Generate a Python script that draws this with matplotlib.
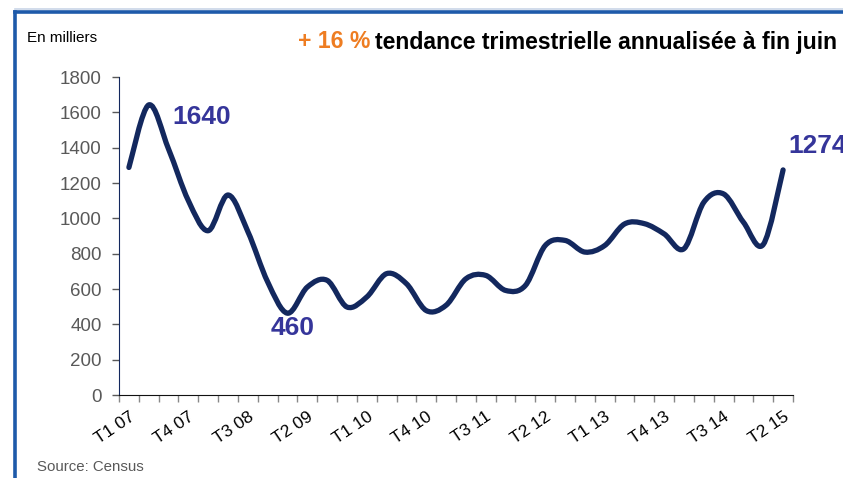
import numpy as np, matplotlib; matplotlib.use("Agg")
import matplotlib.pyplot as plt
from matplotlib.path import Path
from matplotlib.patches import PathPatch
from matplotlib.lines import Line2D

plt.rcParams['font.family'] = ['Liberation Sans', 'DejaVu Sans']

# quarterly data, T1 07 .. T2 15 (thousands)
quarters = [f"T{q} {y:02d}" for y in range(7, 16) for q in range(1, 5)][:34]
values = [1288, 1642, 1392, 1100, 930, 1132, 925, 640, 463, 611,
          649, 498, 555, 687, 630, 478, 508, 658, 677, 592,
          620, 846, 875, 809, 846, 968, 970, 912, 828, 1091,
          1138, 978, 852, 1274]
label_idx = list(range(0, 34, 3))
callouts = [(1, "1640"), (8, "460"), (33, "1274")]

NAVY = '#13285E'; LAB = '#35359A'; GREY = '#595959'

fig = plt.figure(figsize=(8.43, 4.78), dpi=100)
ax = fig.add_axes([119/843, 1-395/478, 674/843, 318/478])

# smoothed line (Catmull-Rom as cubic Bezier segments)
x = np.arange(len(values), dtype=float); y = np.array(values, dtype=float)
P = np.column_stack([x, y]); Pe = np.vstack([P[0], P, P[-1]])
verts = [P[0]]; codes = [Path.MOVETO]
for i in range(len(P)-1):
    p0, p1, p2, p3 = Pe[i], Pe[i+1], Pe[i+2], Pe[i+3]
    verts += [p1 + (p2-p0)/6, p2 - (p3-p1)/6, p2]; codes += [Path.CURVE4]*3
ax.add_patch(PathPatch(Path(verts, codes), fc='none', ec=NAVY, lw=3.8, capstyle='round', joinstyle='round'))

ax.set_xlim(-0.5, 33.5); ax.set_ylim(0, 1800)
ax.set_yticks(range(0, 1801, 200))
ax.tick_params(axis='y', labelsize=13.5, labelcolor=GREY, color=GREY, length=5, width=1, pad=7.5)
ax.set_xticks(np.arange(-0.5, 34, 1))
ax.set_xticklabels([])
ax.tick_params(axis='x', which='major', length=5, color='#888888', width=1)
ax.set_xticks(label_idx, minor=True)
ax.set_xticklabels([quarters[i] for i in label_idx], minor=True, rotation=34, ha='right',
                   rotation_mode='anchor', fontsize=12.5)
ax.tick_params(axis='x', which='minor', length=0, pad=10)
for s in ['top', 'right']: ax.spines[s].set_visible(False)
ax.spines['left'].set_color(NAVY); ax.spines['bottom'].set_color('#111111')

offs = {1: (17, -9, 'left'), 8: (4, -11, 'center'), 33: (4, 17, 'left')}
for i, t in callouts:
    dx, dy, ha = offs[i]
    ax.annotate(t, (i, values[i]), xytext=(dx, dy), textcoords='offset points', ha=ha, va='center',
                fontsize=19, fontweight='bold', color=LAB, annotation_clip=False)

fig.text(27/843, 1-38/478, "En milliers", fontsize=11, va='center')
fig.text(37/843, 1-467/478, "Source: Census", fontsize=10.8, color=GREY, va='center')
tf = ['Liberation Sans Narrow', 'Liberation Sans', 'DejaVu Sans']
t1 = fig.text(298/843, 1-42/478, "+ 16 %", fontsize=16.6, fontweight='bold', color='#EE7D22', va='center', family=tf)
fig.canvas.draw()
bb = t1.get_window_extent()
fig.text((bb.x1+5)/843, 1-42/478, "tendance trimestrielle annualisée à fin juin", fontsize=16.6,
         fontweight='bold', color='black', va='center', family=tf)

# blue frame on left and top
fig.add_artist(Line2D([15/843, 1], [1-9/478]*2, color='#C9D6E8', lw=1.2))
fig.add_artist(Line2D([15/843, 1], [1-12/478]*2, color='#1E5AAA', lw=2.6))
fig.add_artist(Line2D([15/843]*2, [0, 1-12/478], color='#1E5AAA', lw=2.6))

fig.savefig("out.png", dpi=100)
